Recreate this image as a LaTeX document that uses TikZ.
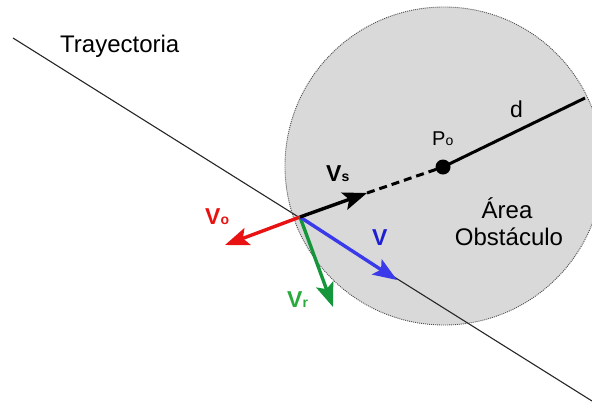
\documentclass[tikz,border=0pt]{standalone}
\usepackage{fontspec}
\setmainfont{Liberation Sans}
\usetikzlibrary{arrows.meta}
\definecolor{areagray}{RGB}{217,217,217}
\definecolor{rimgray}{RGB}{80,80,80}
\definecolor{vred}{RGB}{232,18,18}
\definecolor{vblue}{RGB}{58,58,235}
\definecolor{vgreen}{RGB}{22,150,58}
\definecolor{lblue}{RGB}{30,30,210}
\definecolor{lgreen}{RGB}{40,170,60}
\newcommand{\smallsub}[1]{{\fontsize{14}{14}\selectfont #1}}
\begin{document}
\begin{tikzpicture}[x=1pt,y=-1pt,
  vec/.style={line width=3.4pt,-{Stealth[length=24pt,width=18pt,inset=5pt]}},
  lbl/.style={font=\fontsize{24}{27}\selectfont, inner sep=0pt},
  vlbl/.style={font=\fontsize{23}{25}\selectfont\bfseries, inner sep=0pt}]
\useasboundingbox (0,0) rectangle (592,408);
\begin{scope}
  \clip (0,0) rectangle (592,408);
  \node[circle, fill=areagray, minimum size=318pt, inner sep=0pt] (area) at (444,166) {};
\end{scope}
% trajectory
\coordinate (T1) at (13,38);
\coordinate (T2) at (592,401);
\draw[line width=1.1pt, black!85] (T1) -- (T2);
% rim
\begin{scope}
  \clip (0,0) rectangle (592,408);
  \draw[rimgray, line width=0.9pt, dash pattern=on 1pt off 1pt] (area.center) circle (159);
\end{scope}
% points
\coordinate (O) at (300,217);
\node[circle, fill=black, minimum size=15pt, inner sep=0pt] (P0) at (443,167) {};
\coordinate (Dend) at (585,98);
\coordinate (Vs) at (367,193);
\coordinate (Vo) at (225,245);
\coordinate (V) at (397,280);
\coordinate (Vr) at (333,307);
% d line and dashed
\draw[line width=3pt] (P0.center) -- (Dend);
\draw[line width=3pt, dash pattern=on 8pt off 5pt] (Vs) -- (P0.center);
% vectors
\draw[vec, vred] (O) -- (Vo);
\draw[vec, vgreen] (O) -- (Vr);
\draw[vec, vblue] (O) -- (V);
\draw[vec, black] (O) -- (Vs);
% labels
\node[lbl, anchor=base west] (ltray) at (60,52) {Trayectoria};
\node[vlbl, anchor=base west] (lvs) at (326,181) {V\smallsub{s}};
\node[vlbl, anchor=base west, text=vred] (lvo) at (205,224) {V\smallsub{o}};
\node[vlbl, anchor=base west, text=lgreen] (lvr) at (287,307) {V\smallsub{r}};
\node[vlbl, anchor=base west, text=lblue] (lv) at (372,245) {V};
\node[lbl, font=\fontsize{20}{22}\selectfont, anchor=base west] (lp0) at (432,145) {P\smallsub{o}};
\node[lbl, font=\fontsize{23}{25}\selectfont, anchor=base west] (ld) at (510,117) {d};
\node[lbl, anchor=base] (larea1) at (507,218) {Área};
\node[lbl, anchor=base] (larea2) at (509,245) {Obstáculo};
\end{tikzpicture}
\end{document}
